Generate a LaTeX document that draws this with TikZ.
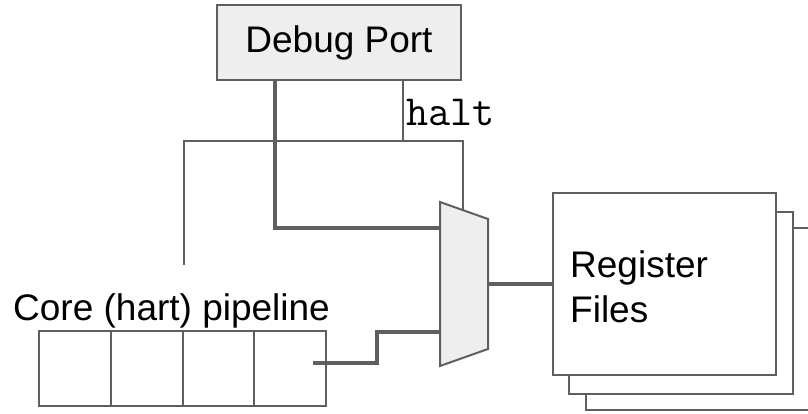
\documentclass[tikz,border=0pt]{standalone}
\usepackage{fontspec}
\setmainfont{Liberation Sans}
\usetikzlibrary{calc}
\definecolor{edge}{HTML}{5F5F5F}
\definecolor{panel}{HTML}{EEEEEE}
\tikzset{
  wire/.style={draw=edge, line width=2pt},
  bus/.style={draw=edge, line width=4pt},
  block/.style={draw=edge, line width=2pt, rectangle, inner sep=0pt, outer sep=0pt},
  cell/.style={block, fill=white, minimum width=71.75pt, minimum height=75pt, anchor=north west},
  big/.style={font=\fontsize{37}{45}\selectfont},
}
\begin{document}
\begin{tikzpicture}[x=1pt, y=-1pt]
\useasboundingbox (0,0) rectangle (808,413);

% debug port
\node[block, fill=panel, minimum width=244pt, minimum height=75pt, big]
  (dp) at (339,42.5) {Debug Port};

% register file stack, back to front
\begin{scope}
  \clip (0,0) rectangle (808,413);
  \node[block, fill=white, minimum width=226pt, minimum height=182pt, anchor=north west] (rf3) at (586,228) {};
  \node[block, fill=white, minimum width=224pt, minimum height=182pt, anchor=north west] (rf2) at (569,212) {};
  \node[block, fill=white, minimum width=223pt, minimum height=182pt, anchor=north west] (rf1) at (552.7,193) {};
\end{scope}
\node[big, align=left, anchor=west, inner sep=0pt] (rflabel) at (570,287) {Register\\Files};

% pipeline stages
\node[cell] (s1) at (39,331) {};
\node[cell] (s2) at (s1.north east) {};
\node[cell] (s3) at (s2.north east) {};
\node[cell] (s4) at (s3.north east) {};
\node[big, anchor=base west, inner sep=0pt] (core) at (13,320) {Core (hart) pipeline};

% multiplexer
\coordinate (mTL) at (440,202);
\coordinate (mTR) at (488,219);
\coordinate (mBR) at (488,349);
\coordinate (mBL) at (440,366);
\draw[wire, fill=panel, line join=miter] (mTL) -- (mTR) -- (mBR) -- (mBL) -- cycle;
\coordinate (muxA) at (440,228);
\coordinate (muxB) at (440,332);
\coordinate (muxSel) at (463,210);
\coordinate (muxOut) at (488,284);

% halt signal
\coordinate (haltj) at (403,141);
\coordinate (coreHalt) at (184,265);
\node[font=\ttfamily\fontsize{43}{46}\selectfont, anchor=base west, inner sep=0pt] (halt) at (406,125) {halt};
\draw[wire] (dp.south -| haltj) -- (haltj) -| (muxSel);
\draw[wire] (haltj) -| (coreHalt);

% data paths
\coordinate (busx) at (275,0);
\coordinate (pipeOut) at (313,363);
\draw[bus] (dp.south -| busx) |- (muxA);
\draw[bus] (pipeOut) -| ($(pipeOut)!.5!(muxB)$) |- (muxB);
\draw[bus] (muxOut) -- (rf1.west |- muxOut);
\end{tikzpicture}
\end{document}
